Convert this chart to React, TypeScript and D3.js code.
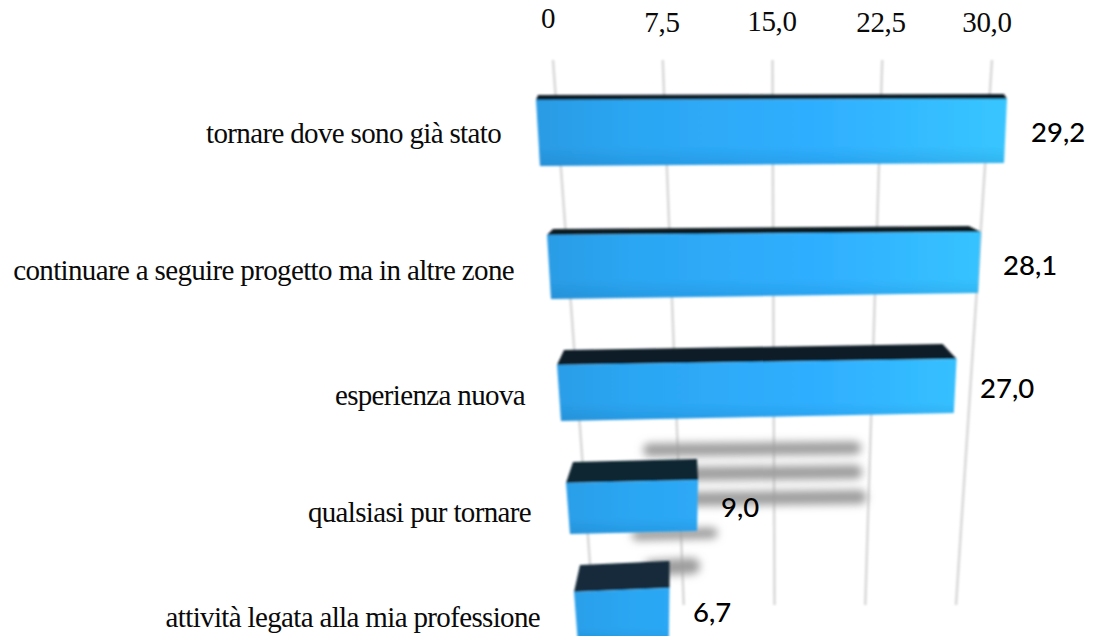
import React from "react";
import * as d3 from "d3";

const categories = [
  "tornare dove sono già stato",
  "continuare a seguire progetto ma in altre zone",
  "esperienza nuova",
  "qualsiasi pur tornare",
  "attività legata alla mia professione",
];
const values = [29.2, 28.1, 27.0, 9.0, 6.7];
const valueLabels = ["29,2", "28,1", "27,0", "9,0", "6,7"];
const ticks = [0, 7.5, 15, 22.5, 30];
const tickLabels = ["0", "7,5", "15,0", "22,5", "30,0"];

// Perspective layout per row (index 0-4)
const rows = [0, 1, 2, 3, 4];
const frontTop = d3.scaleLinear<number>().domain(rows).range([100, 235, 365, 483, 592]);
const frontHeight = d3.scaleLinear<number>().domain(rows).range([66, 64, 56, 51, 52]);
const frontLeft = d3.scaleLinear<number>().domain(rows).range([536, 547, 557, 566, 574]);
const unitWidth = d3.scaleLinear<number>().domain(rows).range([16.13, 15.44, 14.8, 14.67, 14.25]);
const topRise = d3.scaleLinear<number>().domain(rows).range([5, 6, 15, 21, 27]);
const backLeftInset = d3.scaleLinear<number>().domain(rows).range([2, 6, 7, 7, 6]);
const backRightInset = d3.scaleLinear<number>().domain(rows).range([3, 12, 14, 1, 0]);
const tilt = d3.scaleLinear<number>().domain(rows).range([1, 3, 6, 3, 4]);
const bottomTilt = d3.scaleLinear<number>().domain(rows).range([3, 6, 8, 3, 3]);
const topColor = ["#0d1e26", "#0e1c22", "#0f1e25", "#112530", "#142c3a"];

const labelBaseline = [143, 280, 405, 522, 627];
const labelRight = [501, 514, 525, 531, 540];
const valueX = [1031, 1003, 980, 721, 693];
const valueBaseline = [142, 275, 398, 517, 622];
const tickLabelX = [548, 662, 772, 881, 987];
const tickLabelY = [28, 32, 31, 32, 32];

const gridTopY = 60;
const gridBottomY = 605;
const xTop = d3.scaleLinear().domain([0, 30]).range([553, 992]);
const xBottom = d3.scaleLinear().domain([0, 30]).range([593, 956]);
const gridX = (v: number, y: number) =>
  d3.interpolateNumber(xTop(v), xBottom(v))((y - gridTopY) / (gridBottomY - gridTopY));

// Blurred shadow streaks, in chart values at a screen row
const shadowFrom = [5.3, 7, 8, 4, 5];
const shadowTo = [21.3, 21.4, 21.8, 10, 8.3];
const shadowY = [449, 473, 498, 534, 567];
const shadowW = [13, 14, 14, 11, 16];

const line = d3.line<[number, number]>();

export default function App() {
  return (
    <svg
      width={1094}
      height={636}
      style={{ position: "absolute", left: 0, top: 0, display: "block", background: "#fff" }}
    >
      <defs>
        <filter id="soft" filterUnits="userSpaceOnUse" x="0" y="0" width="1094" height="636">
          <feGaussianBlur stdDeviation="0.9" />
        </filter>
        <filter id="gridBlur" filterUnits="userSpaceOnUse" x="0" y="0" width="1094" height="636">
          <feGaussianBlur stdDeviation="0.8" />
        </filter>
        <filter id="shadowBlur" filterUnits="userSpaceOnUse" x="0" y="0" width="1094" height="636">
          <feGaussianBlur stdDeviation="4.5" />
        </filter>
        <linearGradient id="face" gradientUnits="userSpaceOnUse" x1="536" y1="0" x2="1007" y2="0">
          <stop offset="0" stopColor="#2a9be4" />
          <stop offset="0.2" stopColor="#2ca6f2" />
          <stop offset="0.6" stopColor="#2fafff" />
          <stop offset="1" stopColor="#38c6ff" />
        </linearGradient>
        <linearGradient id="faceDark" x1="0" y1="0" x2="0" y2="1">
          <stop offset="0.7" stopColor="#0a5a96" stopOpacity="0" />
          <stop offset="1" stopColor="#0a5a96" stopOpacity="0.18" />
        </linearGradient>
      </defs>

      {ticks.map((t) => (
        <path
          key={t}
          d={line([
            [gridX(t, gridTopY), gridTopY],
            [gridX(t, gridBottomY), gridBottomY],
          ]) ?? ""}
          stroke="#d9d9d9"
          strokeWidth={2.6}
          fill="none"
          filter="url(#gridBlur)"
        />
      ))}

      {shadowY.map((y, i) => (
        <path
          key={y}
          d={line([
            [gridX(shadowFrom[i], y), y + 1],
            [gridX(shadowTo[i], y), y - 1],
          ]) ?? ""}
          stroke="#9c9c9c"
          strokeWidth={shadowW[i]}
          strokeLinecap="round"
          fill="none"
          filter="url(#shadowBlur)"
        />
      ))}

      {values.map((v, i) => {
        const x = d3.scaleLinear().domain([0, 1]).range([frontLeft(i), frontLeft(i) + unitWidth(i)]);
        const yT = frontTop(i);
        const yB = yT + frontHeight(i);
        const xL = x(0);
        const xR = x(v);
        const rise = topRise(i);
        const top: [number, number][] = [
          [xL, yT],
          [xL + backLeftInset(i), yT - rise],
          [xR - backRightInset(i), yT - rise - tilt(i)],
          [xR, yT - tilt(i)],
        ];
        const face: [number, number][] = [
          [xL, yT],
          [xR, yT - tilt(i)],
          [xR - 3 * (v / 29.2), yB - bottomTilt(i)],
          [xL + 4, yB],
        ];
        return (
          <g key={categories[i]} filter="url(#soft)">
            <path d={(line(top) ?? "") + "Z"} fill={topColor[i]} />
            <path d={(line(face) ?? "") + "Z"} fill="url(#face)" />
            <path d={(line(face) ?? "") + "Z"} fill="url(#faceDark)" />
          </g>
        );
      })}

      <g fontFamily="'Liberation Serif', serif" fill="#0a0a0a">
        {tickLabels.map((t, i) => (
          <text key={t} x={tickLabelX[i]} y={tickLabelY[i]} fontSize={29} letterSpacing={-0.3} textAnchor="middle">
            {t}
          </text>
        ))}
        {categories.map((c, i) => (
          <text key={c} x={labelRight[i]} y={labelBaseline[i]} fontSize={29} letterSpacing={-0.65} textAnchor="end">
            {c}
          </text>
        ))}
      </g>
      <g fontFamily="Lato, sans-serif" fill="#000" fontSize={27.5} fontWeight={500}>
        {valueLabels.map((t, i) => (
          <text key={t} x={valueX[i]} y={valueBaseline[i]}>
            {t}
          </text>
        ))}
      </g>
    </svg>
  );
}
